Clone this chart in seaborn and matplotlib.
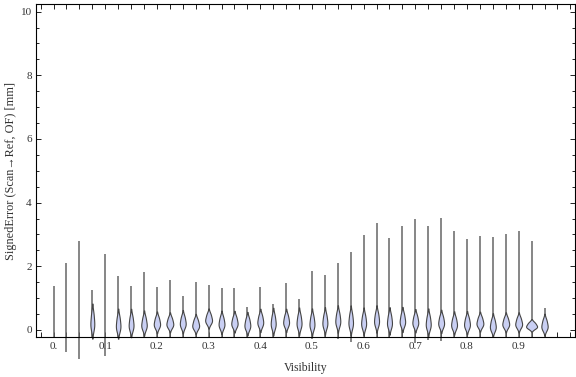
import numpy as np
import pandas as pd
import matplotlib
matplotlib.use("Agg")
import matplotlib.pyplot as plt
from matplotlib.ticker import MultipleLocator, FixedLocator
import seaborn as sns

nan = np.nan

# one violin every 0.025 of visibility
visibility = [0.0, 0.025, 0.05, 0.075, 0.1, 0.125, 0.15, 0.175, 0.2, 0.225,
              0.25, 0.275, 0.3, 0.325, 0.35, 0.375, 0.4, 0.425, 0.45, 0.475,
              0.5, 0.525, 0.55, 0.575, 0.6, 0.625, 0.65, 0.675, 0.7, 0.725,
              0.75, 0.775, 0.8, 0.825, 0.85, 0.875, 0.9, 0.925, 0.95]

# extremes of each distribution (thin tails)
err_min = [-0.25, -0.70, -0.92, -0.25, -0.82, -0.25, -0.25, -0.25, -0.25, -0.25,
           -0.25, -0.25, -0.25, -0.25, -0.25, -0.25, -0.25, -0.25, -0.25, -0.25,
           -0.28, -0.25, -0.28, -0.37, -0.25, -0.25, -0.25, -0.25, -0.41, -0.31,
           -0.34, -0.25, -0.25, -0.25, -0.25, -0.25, -0.25, -0.25, -0.25]
err_max = [1.39, 2.09, 2.78, 1.25, 2.40, 1.70, 1.39, 1.83, 1.35, 1.56,
           1.07, 1.52, 1.42, 1.33, 1.33, 0.72, 1.36, 0.83, 1.47, 0.98,
           1.86, 1.73, 2.10, 2.44, 2.99, 3.36, 2.88, 3.27, 3.49, 3.28,
           3.51, 3.12, 2.86, 2.94, 2.92, 3.03, 3.12, 2.78, 0.68]

# bulk of each distribution: lower, middle, upper values
# (no visible bulk for the widest-spread, lowest-visibility bins)
body_lo = [nan, nan, nan, 0.07, nan, 0.02, 0.05, 0.07, 0.11, 0.12,
           0.12, 0.07, 0.24, 0.10, 0.13, 0.06, 0.16, 0.10, 0.16, 0.11,
           0.08, 0.12, 0.18, 0.12, 0.11, 0.18, 0.12, 0.18, 0.15, 0.08,
           0.13, 0.08, 0.09, 0.14, 0.02, 0.12, 0.12, 0.07, 0.04]
body_mid = [nan, nan, nan, 0.22, nan, 0.15, 0.17, 0.17, 0.20, 0.20,
            0.22, 0.15, 0.32, 0.20, 0.22, 0.16, 0.26, 0.22, 0.26, 0.23,
            0.20, 0.24, 0.30, 0.25, 0.23, 0.30, 0.24, 0.28, 0.25, 0.20,
            0.23, 0.18, 0.19, 0.22, 0.12, 0.20, 0.20, 0.12, 0.13]
body_hi = [nan, nan, nan, 0.49, nan, 0.38, 0.39, 0.37, 0.37, 0.36,
           0.40, 0.31, 0.48, 0.38, 0.39, 0.34, 0.44, 0.43, 0.44, 0.44,
           0.41, 0.45, 0.51, 0.48, 0.44, 0.51, 0.45, 0.48, 0.43, 0.41,
           0.41, 0.36, 0.37, 0.38, 0.30, 0.36, 0.36, 0.22, 0.30]

xtick_pos = [0.0, 0.1, 0.2, 0.3, 0.4, 0.5, 0.6, 0.7, 0.8, 0.9]
xtick_labels = ["0.", "0.1", "0.2", "0.3", "0.4", "0.5", "0.6", "0.7", "0.8", "0.9"]

df = pd.DataFrame({
    "Visibility": np.repeat(visibility, 3),
    "SignedError": np.column_stack([body_lo, body_mid, body_hi]).ravel(),
}).dropna()

sns.set_style("ticks")
plt.rcParams["font.family"] = ["Liberation Serif", "DejaVu Serif"]
plt.rcParams["axes.edgecolor"] = "black"
plt.rcParams["axes.linewidth"] = 0.8

txt = "#333333"
fig = plt.figure(figsize=(5.76, 3.77), dpi=100)
ax = fig.add_axes([36 / 576, 1 - 337 / 377, 539 / 576, 333 / 377])

ax.vlines(visibility, err_min, err_max, color="#666666", lw=1.1, zorder=1, clip_on=False)
sns.violinplot(data=df, x="Visibility", y="SignedError", native_scale=True,
               density_norm="area", cut=2, inner=None, width=0.85,
               color="#c9cff3", saturation=1, linecolor="#454545", linewidth=0.8, ax=ax)
for coll in ax.collections:
    coll.set_clip_on(False)

ax.set_xlim(-0.034, 1.009)
ax.set_ylim(-0.22, 10.24)
ax.xaxis.set_major_locator(FixedLocator(xtick_pos))
ax.set_xticklabels(xtick_labels)
ax.xaxis.set_minor_locator(MultipleLocator(0.025))
ax.yaxis.set_major_locator(MultipleLocator(2))
ax.yaxis.set_minor_locator(MultipleLocator(0.5))

ax.tick_params(which="both", direction="in", top=True, right=True,
               color="#222222", width=0.7, labelcolor=txt, labelsize=8)
ax.tick_params(axis="x", which="both", length=3.6, pad=3.5)
ax.tick_params(axis="y", which="major", length=3.6, pad=3)
ax.tick_params(axis="y", which="minor", length=2.2)

ax.set_xlabel("Visibility", fontsize=8.5, color=txt, labelpad=8)
ax.set_ylabel("SignedError (Scan\u2192Ref, OF) [mm]", fontsize=8.8, color=txt, labelpad=3)

fig.savefig("out.png", dpi=100)
plt.close(fig)
